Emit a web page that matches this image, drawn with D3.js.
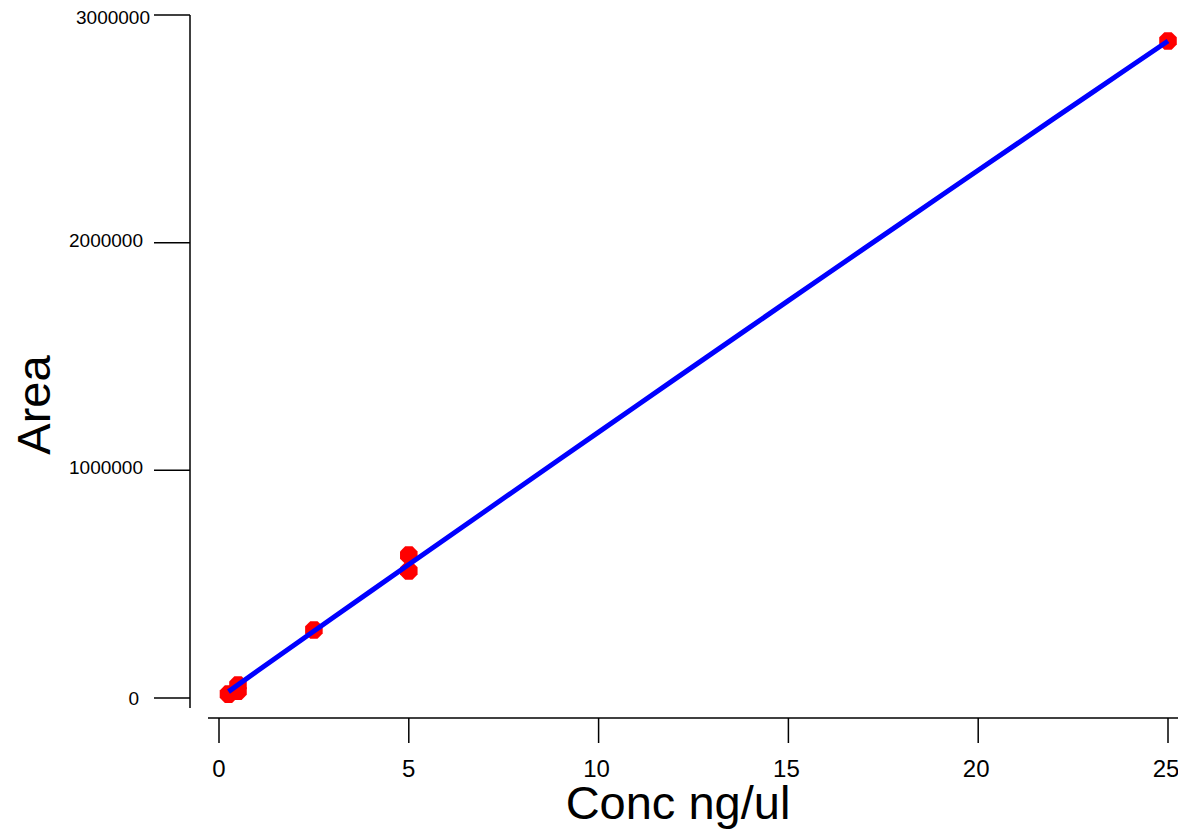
<!DOCTYPE html>
<html>
<head>
<meta charset="utf-8">
<script src="https://cdn.jsdelivr.net/npm/d3@7"></script>
<style>
  html, body { margin: 0; padding: 0; background: #fff; }
  svg { display: block; font-family: "Liberation Sans", Arial, sans-serif; }
</style>
</head>
<body>
<svg id="chart" width="1178" height="829"></svg>
<script>
// Data
const pointConc = [0.25, 0.5, 0.5, 2.5, 5, 5, 25];
const pointArea = [17000, 30000, 57000, 299000, 628000, 558000, 2886000];

const fitConc = [0.25, 1, 2, 3, 4, 5, 6, 7, 8, 9, 10, 11, 12, 13, 14, 15, 16, 17, 18, 19, 20, 21, 22, 23, 24, 25];
const fitArea = [28000, 117600, 235000, 352300, 469400, 586300, 703000, 819500, 935900, 1052000, 1168000,
                 1283800, 1399400, 1514900, 1630100, 1745200, 1860100, 1974800, 2089300, 2203700, 2317900,
                 2431800, 2545700, 2659300, 2772700, 2886000];

const xTicks = [0, 5, 10, 15, 20, 25];
const yTicks = [0, 1000000, 2000000, 3000000];
const xTitle = "Conc ng/ul";
const yTitle = "Area";

const svg = d3.select("#chart");

const x = d3.scaleLinear().domain([0, 25]).range([219, 1168]);
const y = d3.scaleLinear().domain([0, 3000000]).range([698, 15]);

// Y axis
const yAxisX = 190;
svg.append("line")
  .attr("x1", yAxisX).attr("x2", yAxisX)
  .attr("y1", y(3000000)).attr("y2", 708)
  .attr("stroke", "#000").attr("stroke-width", 1.5);
const yt = svg.append("g").selectAll("g").data(yTicks).join("g");
yt.append("line")
  .attr("x1", 154).attr("x2", yAxisX)
  .attr("y1", d => y(d)).attr("y2", d => y(d))
  .attr("stroke", "#000").attr("stroke-width", 1.5);
yt.append("text")
  .attr("x", d => d === 0 ? 139 : (d === 3000000 ? 150 : 143))
  .attr("y", d => d === 0 ? y(d) + 6.5 : (d === 3000000 ? y(d) + 9 : y(d) + 4))
  .attr("text-anchor", "end")
  .attr("font-size", 19)
  .attr("fill", "#000")
  .text(d => d3.format("d")(d));

// X axis
const xAxisY = 718;
svg.append("line")
  .attr("x1", 208).attr("x2", 1178)
  .attr("y1", xAxisY).attr("y2", xAxisY)
  .attr("stroke", "#000").attr("stroke-width", 1.5);
const xt = svg.append("g").selectAll("g").data(xTicks).join("g");
xt.append("line")
  .attr("x1", d => x(d)).attr("x2", d => x(d))
  .attr("y1", xAxisY).attr("y2", 743)
  .attr("stroke", "#000").attr("stroke-width", 1.5);
xt.append("text")
  .attr("x", d => x(d) - (d >= 10 ? 2 : 0))
  .attr("y", 777)
  .attr("text-anchor", "middle")
  .attr("font-size", 24)
  .attr("fill", "#000")
  .text(d => d);

// Titles
svg.append("text")
  .attr("x", 678).attr("y", 819)
  .attr("text-anchor", "middle")
  .attr("font-size", 47)
  .attr("fill", "#000")
  .text(xTitle);
svg.append("text")
  .attr("transform", "translate(50,405) rotate(-90)")
  .attr("text-anchor", "middle")
  .attr("font-size", 47)
  .attr("fill", "#000")
  .text(yTitle);

// Markers (octagons)
const octR = 9.5;
const octagon = (cx, cy) => {
  const pts = d3.range(8).map(i => {
    const a = Math.PI / 8 + i * Math.PI / 4;
    return [cx + octR * Math.cos(a), cy + octR * Math.sin(a)];
  });
  return d3.line()(pts) + "Z";
};
const pts = pointConc.map((c, i) => ({ c, a: pointArea[i] }));
svg.append("g").selectAll("path").data(pts).join("path")
  .attr("d", d => octagon(x(d.c), y(d.a)))
  .attr("fill", "#ff0000");

// Fit line
const fit = fitConc.map((c, i) => ({ c, a: fitArea[i] }));
svg.append("path")
  .datum(fit)
  .attr("d", d3.line().x(d => x(d.c)).y(d => y(d.a)))
  .attr("fill", "none")
  .attr("stroke", "#0000ff")
  .attr("stroke-width", 5)
  .attr("stroke-linejoin", "round");
</script>
</body>
</html>
